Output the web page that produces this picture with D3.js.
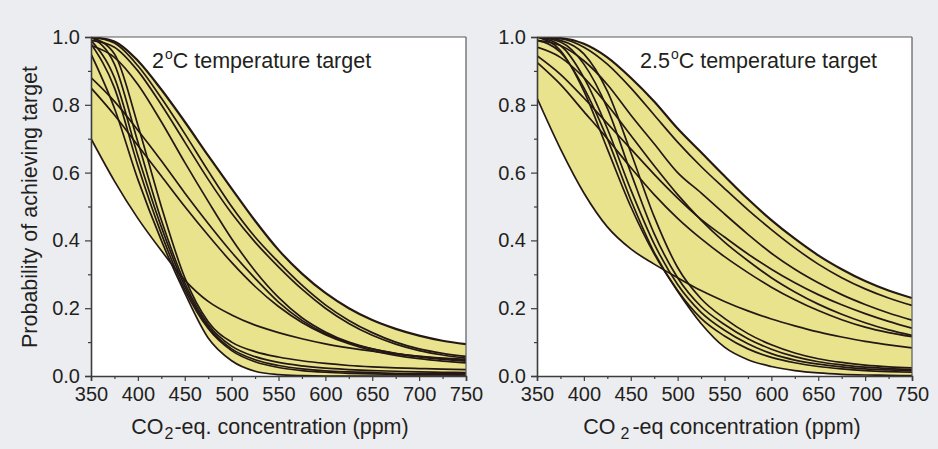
<!DOCTYPE html>
<html><head><meta charset="utf-8">
<script src="https://cdn.jsdelivr.net/npm/d3@7"></script>
<style>
html,body{margin:0;padding:0;background:#ecedf0;}
svg{display:block;}
text{font-family:"Liberation Sans",Arial,Helvetica,sans-serif;fill:#231f20;}
</style></head><body>
<svg id="chart" width="938" height="449"></svg>
<script>
// ---- data ----
const concentration = [350,375,400,425,450,475,500,525,550,575,600,625,650,675,700,725,750];
const xTickValues = [350,400,450,500,550,600,650,700,750];
const xMinorTicks = [375,425,475,525,575,625,675,725];
const yTickValues = [0,0.2,0.4,0.6,0.8,1.0];
const yMinorTicks = [0.1,0.3,0.5,0.7,0.9];

// 2 degC target: probability curves
const t2_A  = [1.00,0.987,0.93,0.845,0.75,0.65,0.553,0.458,0.372,0.302,0.245,0.20,0.165,0.139,0.119,0.104,0.094];
const t2_B  = [1.00,0.982,0.915,0.82,0.715,0.605,0.50,0.41,0.336,0.268,0.21,0.164,0.128,0.10,0.08,0.067,0.058];
const t2_C  = [0.99,0.97,0.90,0.80,0.69,0.58,0.48,0.395,0.322,0.256,0.20,0.155,0.12,0.094,0.075,0.062,0.053];
const t2_M1 = [0.975,0.94,0.86,0.75,0.63,0.515,0.405,0.31,0.232,0.172,0.13,0.10,0.08,0.066,0.056,0.049,0.044];
const t2_M2 = [0.88,0.81,0.725,0.635,0.54,0.45,0.365,0.288,0.218,0.164,0.125,0.098,0.08,0.067,0.058,0.051,0.046];
const t2_M3 = [0.85,0.77,0.68,0.59,0.50,0.415,0.335,0.264,0.205,0.158,0.122,0.095,0.075,0.061,0.051,0.044,0.039];
const t2_L  = [0.70,0.575,0.465,0.37,0.283,0.22,0.18,0.15,0.128,0.11,0.095,0.083,0.073,0.065,0.058,0.053,0.049];
const t2_S1 = [0.95,0.79,0.58,0.40,0.245,0.112,0.045,0.014,0.004,0.001,0,0,0,0,0,0,0];
const t2_S2 = [1.00,0.95,0.74,0.50,0.29,0.16,0.10,0.072,0.056,0.045,0.037,0.031,0.027,0.024,0.022,0.02,0.019];
const t2_S3 = [1.00,0.92,0.69,0.46,0.275,0.152,0.088,0.057,0.04,0.03,0.023,0.019,0.016,0.014,0.012,0.011,0.01];
const t2_S4 = [0.99,0.88,0.65,0.44,0.265,0.145,0.08,0.048,0.031,0.021,0.015,0.012,0.01,0.008,0.007,0.006,0.006];
const t2_S5 = [0.98,0.85,0.62,0.42,0.255,0.14,0.075,0.042,0.025,0.016,0.011,0.008,0.006,0.005,0.004,0.004,0.003];
const series2C = [t2_A,t2_B,t2_C,t2_M1,t2_M2,t2_M3,t2_L,t2_S1,t2_S2,t2_S3,t2_S4,t2_S5];

// 2.5 degC target
const t25_A  = [1.00,0.997,0.98,0.94,0.88,0.81,0.73,0.66,0.59,0.522,0.46,0.405,0.356,0.315,0.28,0.252,0.23];
const t25_B  = [1.00,0.995,0.97,0.92,0.85,0.77,0.69,0.618,0.553,0.49,0.432,0.378,0.33,0.29,0.257,0.23,0.208];
const t25_C  = [0.99,0.975,0.93,0.86,0.77,0.685,0.60,0.54,0.478,0.418,0.362,0.315,0.275,0.24,0.211,0.186,0.165];
const t25_D  = [0.945,0.89,0.82,0.745,0.67,0.595,0.525,0.462,0.41,0.36,0.315,0.275,0.24,0.21,0.184,0.161,0.141];
const t25_E  = [0.925,0.86,0.78,0.70,0.615,0.535,0.465,0.405,0.352,0.305,0.262,0.225,0.193,0.166,0.144,0.128,0.116];
const t25_F  = [0.97,0.94,0.88,0.80,0.71,0.62,0.535,0.46,0.395,0.34,0.29,0.248,0.212,0.182,0.157,0.136,0.12];
const t25_L  = [0.82,0.67,0.54,0.44,0.375,0.33,0.29,0.252,0.22,0.192,0.168,0.148,0.13,0.115,0.102,0.092,0.083];
const t25_S1 = [1.00,0.96,0.84,0.67,0.50,0.36,0.25,0.155,0.085,0.048,0.028,0.016,0.009,0.005,0.003,0.002,0.001];
const t25_S2 = [1.00,0.99,0.95,0.84,0.66,0.47,0.32,0.228,0.17,0.125,0.092,0.068,0.051,0.04,0.032,0.027,0.024];
const t25_S3 = [1.00,0.985,0.92,0.79,0.60,0.42,0.29,0.205,0.152,0.11,0.079,0.057,0.042,0.033,0.026,0.022,0.019];
const t25_S4 = [1.00,0.975,0.88,0.73,0.55,0.39,0.27,0.188,0.135,0.095,0.066,0.047,0.035,0.027,0.021,0.018,0.015];
const t25_S5 = [0.99,0.955,0.85,0.70,0.52,0.365,0.252,0.17,0.118,0.08,0.055,0.039,0.028,0.021,0.016,0.013,0.011];
const series25C = [t25_A,t25_B,t25_C,t25_D,t25_E,t25_F,t25_L,t25_S1,t25_S2,t25_S3,t25_S4,t25_S5];

const panelLabels = ["2", "2.5"];

// ---- drawing ----
const svg = d3.select("#chart");
const plotW = 375, plotH = 339, plotTop = 37;
const panels = [
  {id:"p1", left:91, series:series2C, label:panelLabels[0], titleX:152, yTitle:true, xTitleCenter:270, xTitleGap:false},
  {id:"p2", left:537, series:series25C, label:panelLabels[1], titleX:640, yTitle:false, xTitleCenter:722, xTitleGap:true}
];
const fillColor = "#e8e38c";
const lineColor = "#231815";

panels.forEach(p => {
  const x = d3.scaleLinear().domain([350,750]).range([0,plotW]);
  const y = d3.scaleLinear().domain([0,1]).range([plotH,0]);
  const g = svg.append("g").attr("transform",`translate(${p.left},${plotTop})`);

  g.append("rect").attr("width",plotW).attr("height",plotH).attr("fill","#fff");

  svg.append("defs").append("clipPath").attr("id",p.id+"-plot")
    .append("rect").attr("width",plotW).attr("height",plotH);
  const plot = g.append("g").attr("clip-path",`url(#${p.id}-plot)`);

  const area = d3.area().x((d,i)=>x(concentration[i])).y0(plotH).y1(d=>y(d)).curve(d3.curveMonotoneX);
  const line = d3.line().x((d,i)=>x(concentration[i])).y(d=>y(d)).curve(d3.curveMonotoneX);

  // union of regions under each curve -> yellow
  p.series.forEach(s => {
    plot.append("path").attr("d",area(s)).attr("fill",fillColor);
  });
  // intersection of regions under all curves -> white
  const defs = svg.append("defs");
  let parent = plot;
  p.series.forEach((s,i) => {
    const cid = `${p.id}-below-${i}`;
    defs.append("clipPath").attr("id",cid).append("path").attr("d",area(s));
    parent = parent.append("g").attr("clip-path",`url(#${cid})`);
  });
  parent.append("rect").attr("width",plotW).attr("height",plotH+2).attr("fill","#fff");

  // curves
  p.series.forEach((s,i) => {
    plot.append("path").attr("d",line(s)).attr("fill","none")
      .attr("stroke",lineColor).attr("stroke-width", i===0 ? 2.2 : 1.7)
      .attr("stroke-linejoin","round");
  });

  // frame top/right
  g.append("line").attr("x1",0).attr("x2",plotW).attr("y1",0).attr("y2",0).attr("stroke","#5a5a5a").attr("stroke-width",1.2);
  g.append("line").attr("x1",plotW).attr("x2",plotW).attr("y1",0).attr("y2",plotH).attr("stroke","#5a5a5a").attr("stroke-width",1.2);

  // axes
  const yAxis = g.append("g").call(d3.axisLeft(y).tickValues(yTickValues).tickFormat(d3.format(".1f")).tickSize(6).tickPadding(5));
  const yMinor = g.append("g").call(d3.axisLeft(y).tickValues(yMinorTicks).tickFormat("").tickSize(3));
  yMinor.select(".domain").remove();
  const xAxis = g.append("g").attr("transform",`translate(0,${plotH})`)
    .call(d3.axisBottom(x).tickValues(xTickValues).tickSize(5).tickPadding(6));
  const xMinor = g.append("g").attr("transform",`translate(0,${plotH})`)
    .call(d3.axisBottom(x).tickValues(xMinorTicks).tickFormat("").tickSize(3));
  xMinor.select(".domain").remove();
  [yAxis,yMinor,xAxis,xMinor].forEach(a => {
    a.selectAll("text").style("font-size","20px").attr("fill","#231f20")
      .style("font-family",'"Liberation Sans",Arial,sans-serif');
    a.selectAll(".domain").attr("stroke","#3c3c3c").attr("stroke-width",1.6);
    a.selectAll(".tick line").attr("stroke","#3c3c3c").attr("stroke-width",1.2);
  });

  // panel title
  const t = svg.append("text").attr("x",p.titleX).attr("y",68).style("font-size","21.5px");
  t.append("tspan").text(p.label);
  t.append("tspan").text("o").style("font-size","14px").attr("dy",-9).attr("dx",1);
  t.append("tspan").text("C temperature target").attr("dy",9);

  // x title
  const xt = svg.append("text").attr("x",p.xTitleCenter).attr("y",434)
    .attr("text-anchor","middle").style("font-size","21.5px");
  xt.append("tspan").text("CO");
  xt.append("tspan").text("2").style("font-size","16px").attr("dy",5).attr("dx",p.xTitleGap?5:1);
  xt.append("tspan").text(p.xTitleGap ? "-eq concentration (ppm)" : "-eq. concentration (ppm)").attr("dy",-5).attr("dx",p.xTitleGap?3:1);

  if (p.yTitle) {
    svg.append("text").attr("transform","translate(37,207) rotate(-90)")
      .attr("text-anchor","middle").style("font-size","21.5px")
      .text("Probability of achieving target");
  }
});
</script>
</body></html>
